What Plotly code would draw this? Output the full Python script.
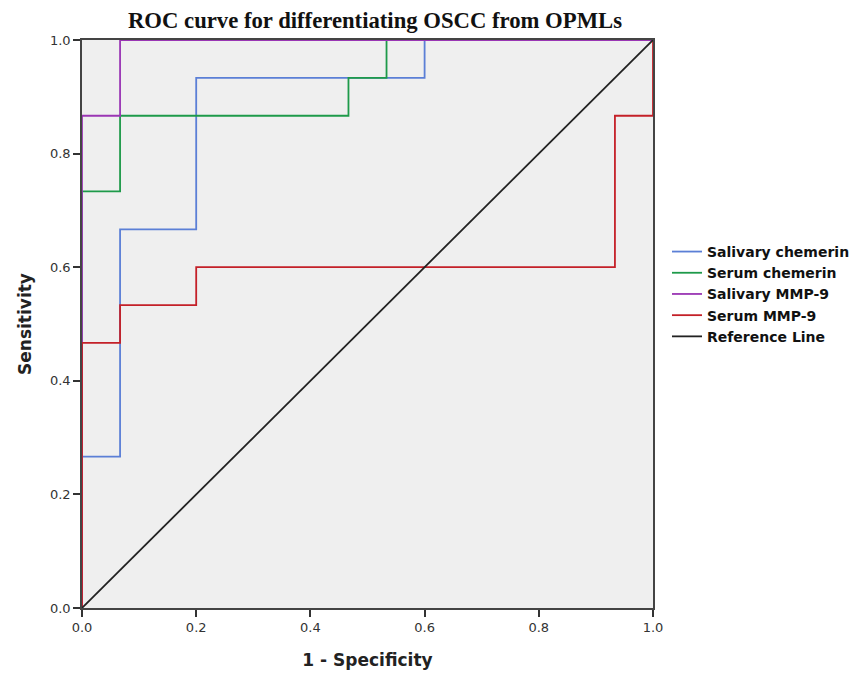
import plotly.graph_objects as go

# ROC curve step points (1 - Specificity, Sensitivity)
sal_chem_x = [0, 0, 1/15, 1/15, 3/15, 3/15, 9/15, 9/15, 1]
sal_chem_y = [0, 4/15, 4/15, 10/15, 10/15, 14/15, 14/15, 1, 1]

ser_chem_x = [0, 0, 1/15, 1/15, 7/15, 7/15, 8/15, 8/15, 1]
ser_chem_y = [0, 11/15, 11/15, 13/15, 13/15, 14/15, 14/15, 1, 1]

sal_mmp_x = [0, 0, 1/15, 1/15, 1]
sal_mmp_y = [0, 13/15, 13/15, 1, 1]

ser_mmp_x = [0, 0, 1/15, 1/15, 3/15, 3/15, 14/15, 14/15, 1, 1]
ser_mmp_y = [0, 7/15, 7/15, 8/15, 8/15, 9/15, 9/15, 13/15, 13/15, 1]

ref_x = [0, 1]
ref_y = [0, 1]

tick_vals = [0, 0.2, 0.4, 0.6, 0.8, 1.0]
tick_text = ["0.0", "0.2", "0.4", "0.6", "0.8", "1.0"]

series = [
    ("Salivary chemerin", sal_chem_x, sal_chem_y, "#5B7FD6"),
    ("Serum chemerin", ser_chem_x, ser_chem_y, "#1E9A4A"),
    ("Salivary MMP-9", sal_mmp_x, sal_mmp_y, "#9A36B4"),
    ("Serum MMP-9", ser_mmp_x, ser_mmp_y, "#C42028"),
    ("Reference Line", ref_x, ref_y, "#222222"),
]

fig = go.Figure()
for name, xs, ys, col in series:
    fig.add_trace(go.Scatter(x=xs, y=ys, mode="lines", name="<b>" + name + "</b>",
                             line=dict(color=col, width=1.8)))

axis_common = dict(
    range=[0, 1], tickvals=tick_vals, ticktext=tick_text,
    showgrid=False, zeroline=False, showline=True, linecolor="#444444",
    linewidth=1.5, mirror=True, ticks="outside", ticklen=7, tickwidth=1.5,
    tickcolor="#333333", automargin=False,
    tickfont=dict(family="DejaVu Sans", size=13, color="#333333"),
)

# page body has an 8px default margin, so the figure is 8px smaller and margins offset
W, H = 852, 666
fig.update_layout(
    width=W, height=H,
    margin=dict(l=74, r=207, t=32, b=66, autoexpand=False),
    paper_bgcolor="white", plot_bgcolor="#EFEFEF",
    title=dict(text="<b>ROC curve for differentiating OSCC from OPMLs</b>",
               x=367 / W, xanchor="center", y=1 - 12 / H, yanchor="middle",
               font=dict(family="Liberation Serif, Times New Roman", size=22.7, color="#111111")),
    xaxis=dict(axis_common, title=dict(text="<b>1 - Specificity</b>", standoff=20,
               font=dict(family="DejaVu Sans", size=17, color="#222222"))),
    yaxis=dict(axis_common, title=dict(text="<b>Sensitivity</b>", standoff=14,
               font=dict(family="DejaVu Sans", size=17, color="#222222"))),
    legend=dict(x=1.0245, xanchor="left", y=0.655, yanchor="top",
                font=dict(family="DejaVu Sans", size=14, color="#111111"),
                bgcolor="rgba(0,0,0,0)", tracegroupgap=0),
    showlegend=True,
)

fig.write_html("out.html")
